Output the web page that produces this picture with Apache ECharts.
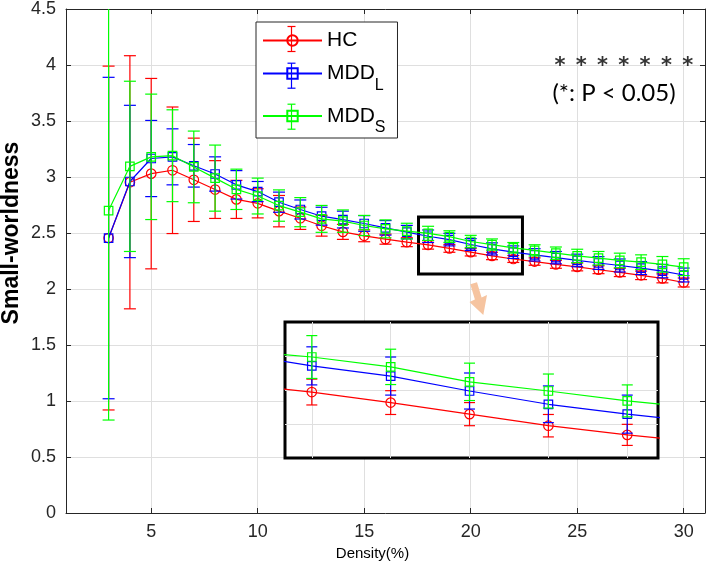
<!DOCTYPE html>
<html><head><meta charset="utf-8">
<script src="https://cdn.jsdelivr.net/npm/echarts@6/dist/echarts.min.js"></script>
<style>html,body{margin:0;padding:0;background:#fff}#c{width:709px;height:575px}</style>
</head><body><div id="c"></div>
<script>
const densities = [3,4,5,6,7,8,9,10,11,12,13,14,15,16,17,18,19,20,21,22,23,24,25,26,27,28,29,30];
const hcMean   = [2.455,2.953,3.03,3.06,2.975,2.888,2.80,2.765,2.695,2.632,2.565,2.51,2.475,2.445,2.418,2.394,2.363,2.329,2.295,2.268,2.245,2.22,2.197,2.172,2.148,2.122,2.095,2.058];
const hcErr    = [1.535,1.13,0.85,0.565,0.372,0.258,0.17,0.13,0.14,0.10,0.093,0.067,0.053,0.045,0.04,0.038,0.035,0.034,0.033,0.031,0.033,0.035,0.035,0.035,0.037,0.038,0.04,0.04];
const mddlMean = [2.455,2.96,3.165,3.18,3.10,3.027,2.93,2.87,2.775,2.71,2.65,2.62,2.585,2.546,2.508,2.471,2.441,2.397,2.358,2.329,2.305,2.28,2.255,2.232,2.21,2.187,2.16,2.125];
const mddlErr  = [1.435,0.68,0.34,0.25,0.19,0.153,0.127,0.09,0.09,0.085,0.08,0.075,0.07,0.065,0.06,0.056,0.056,0.053,0.054,0.056,0.055,0.055,0.056,0.057,0.058,0.058,0.06,0.062];
const mddsMean = [2.70,3.095,3.18,3.19,3.09,2.99,2.89,2.83,2.745,2.686,2.626,2.606,2.567,2.537,2.517,2.497,2.468,2.424,2.397,2.368,2.345,2.32,2.295,2.275,2.255,2.24,2.22,2.195];
const mddsErr  = [1.87,0.76,0.56,0.41,0.32,0.295,0.18,0.16,0.14,0.13,0.12,0.10,0.09,0.08,0.07,0.063,0.052,0.055,0.05,0.047,0.05,0.055,0.06,0.06,0.065,0.065,0.07,0.075];
const sigDensities = [24,25,26,27,28,29,30];
const sigLevel = 4.0;
const seriesNames = ['HC','MDD_L','MDD_S'];
const seriesColors = ['#ff0000','#0000ff','#00ff00'];
const seriesSymbols = ['circle','rect','rect'];
const xRange = [1, 31];
const yRange = [0, 4.5];
const zoomBoxX = [17.55, 22.43];
const zoomBoxY = [2.135, 2.642];
const insetX = [17.66, 22.39];
const insetY = [2.2, 2.6];

const means = [hcMean, mddlMean, mddsMean];
const errs = [hcErr, mddlErr, mddsErr];
const FONT = 'Liberation Sans';

function errRender(color, capHalf) {
  return function (params, api) {
    const x = api.value(0), m = api.value(1), e = api.value(2);
    const top = api.coord([x, m + e]);
    const bot = api.coord([x, m - e]);
    const cs = params.coordSys;
    if (top[0] < cs.x - 0.5 || top[0] > cs.x + cs.width + 0.5) return { type: 'group', children: [] };
    const y0 = Math.max(cs.y, top[1]);
    const y1 = Math.min(cs.y + cs.height, bot[1]);
    const st = { stroke: color, lineWidth: 1.2 };
    const ch = [{ type: 'line', shape: { x1: top[0], y1: y0, x2: top[0], y2: y1 }, style: st }];
    if (top[1] >= cs.y) ch.push({ type: 'line', shape: { x1: top[0] - capHalf, y1: top[1], x2: top[0] + capHalf, y2: top[1] }, style: st });
    if (bot[1] <= cs.y + cs.height) ch.push({ type: 'line', shape: { x1: bot[0] - capHalf, y1: bot[1], x2: bot[0] + capHalf, y2: bot[1] }, style: st });
    return { type: 'group', children: ch };
  };
}

const series = [];
[0, 1].forEach(function (g) {
  const axIdx = g === 0 ? 0 : 2;
  seriesNames.forEach(function (name, k) {
    const c = seriesColors[k];
    series.push({
      type: 'custom', name: name + ' err' + g, xAxisIndex: axIdx, yAxisIndex: axIdx,
      clip: true, silent: true, z: 2 + k,
      renderItem: errRender(c, g === 0 ? 6 : 5.5),
      encode: { x: 0, y: 1 },
      data: densities.map(function (d, i) { return [d, means[k][i], errs[k][i]]; })
    });
    const s = {
      type: 'line', name: name, xAxisIndex: axIdx, yAxisIndex: axIdx,
      symbol: seriesSymbols[k], symbolSize: k === 0 ? 9.5 : 8.5, showAllSymbol: true,
      clip: true, silent: true, z: 2 + k,
      itemStyle: { color: 'transparent', borderColor: c, borderWidth: 1.2 },
      lineStyle: { color: c, width: 1.2 },
      emphasis: { disabled: true },
      data: densities.map(function (d, i) { return [d, means[k][i]]; })
    };
    if (g === 0 && k === 0) {
      s.markArea = {
        silent: true,
        itemStyle: { color: 'transparent', borderColor: '#000', borderWidth: 3 },
        data: [[{ coord: [zoomBoxX[0], zoomBoxY[0]] }, { coord: [zoomBoxX[1], zoomBoxY[1]] }]]
      };
    }
    series.push(s);
  });
});
series.push({
  type: 'scatter', name: 'sig', xAxisIndex: 0, yAxisIndex: 0, symbolSize: 0, silent: true,
  label: { show: true, formatter: '*', position: 'inside', offset: [4, 2], fontFamily: 'DejaVu Sans', fontWeight: 'bold', fontSize: 21, color: '#000' },
  data: sigDensities.map(function (d) { return [d, sigLevel]; })
});

const axisColor = '#262626';
const gridColor = '#dfdfdf';
const option = {
  animation: false,
  backgroundColor: '#fff',
  textStyle: { fontFamily: FONT },
  grid: [
    { left: 66, top: 7, width: 639, height: 506, show: false },
    { left: 285, top: 322, width: 373, height: 136, show: true, z: 1, backgroundColor: '#fff', borderColor: '#000', borderWidth: 3 }
  ],
  xAxis: [
    { type: 'value', gridIndex: 0, position: 'bottom', min: xRange[0], max: xRange[1], minInterval: 5, maxInterval: 5,
      axisLine: { show: true, onZero: false, lineStyle: { color: axisColor, width: 1 } },
      axisTick: { show: true, inside: true, length: 5, lineStyle: { color: axisColor } },
      axisLabel: { fontSize: 18, color: axisColor, margin: 10, showMinLabel: false, showMaxLabel: false, fontFamily: FONT },
      splitLine: { show: true, lineStyle: { color: gridColor, width: 1 } },
      name: 'Density(%)', nameLocation: 'middle', nameGap: 31,
      nameTextStyle: { fontSize: 15, color: '#000', fontFamily: FONT, padding: [0, 26, 0, 0] } },
    { type: 'value', gridIndex: 0, position: 'top', min: xRange[0], max: xRange[1], minInterval: 5, maxInterval: 5,
      axisLine: { show: true, onZero: false, lineStyle: { color: axisColor, width: 1 } },
      axisTick: { show: true, inside: true, length: 5, lineStyle: { color: axisColor } },
      axisLabel: { show: false }, splitLine: { show: false } },
    { type: 'value', gridIndex: 1, min: insetX[0], max: insetX[1], minInterval: 1, maxInterval: 1, z: 1,
      axisLine: { show: false }, axisTick: { show: false }, axisLabel: { show: false },
      splitLine: { show: true, showMinLine: false, showMaxLine: false, lineStyle: { color: gridColor, width: 1 } } }
  ],
  yAxis: [
    { type: 'value', gridIndex: 0, position: 'left', min: yRange[0], max: yRange[1], interval: 0.5,
      axisLine: { show: true, onZero: false, lineStyle: { color: axisColor, width: 1 } },
      axisTick: { show: true, inside: true, length: 5, lineStyle: { color: axisColor } },
      axisLabel: { fontSize: 18, color: axisColor, margin: 10, fontFamily: FONT },
      splitLine: { show: true, lineStyle: { color: gridColor, width: 1 } } },
    { type: 'value', gridIndex: 0, position: 'right', min: yRange[0], max: yRange[1], interval: 0.5,
      axisLine: { show: true, onZero: false, lineStyle: { color: axisColor, width: 1 } },
      axisTick: { show: true, inside: true, length: 5, lineStyle: { color: axisColor } },
      axisLabel: { show: false }, splitLine: { show: false } },
    { type: 'value', gridIndex: 1, min: insetY[0], max: insetY[1], interval: 0.1, z: 1,
      axisLine: { show: false }, axisTick: { show: false }, axisLabel: { show: false },
      splitLine: { show: true, showMinLine: false, showMaxLine: false, lineStyle: { color: gridColor, width: 1 } } }
  ],
  legend: {
    data: seriesNames, orient: 'vertical', left: 256, top: 22,
    padding: [8, 12, 2, 6], itemGap: 12, itemWidth: 59, itemHeight: 13,
    backgroundColor: '#fff', borderColor: axisColor, borderWidth: 1, borderRadius: 0,
    selectedMode: false, z: 6,
    textStyle: { fontFamily: FONT, fontSize: 21, color: '#000',
      rich: {
        h: { fontFamily: FONT, fontSize: 21, lineHeight: 32, color: '#000' },
        m: { fontFamily: FONT, fontSize: 21, lineHeight: 40, color: '#000' },
        s: { fontFamily: FONT, fontSize: 16, lineHeight: 24, verticalAlign: 'bottom', color: '#000' }
      } },
    formatter: function (n) {
      if (n === 'HC') return '{h|HC}';
      const p = n.split('_');
      return '{m|' + p[0] + '}{s|' + p[1] + '}';
    }
  },
  graphic: [
    { type: 'text', x: 12, y: 233, rotation: Math.PI / 2, z: 10, silent: true,
      style: { text: 'Small-worldness', fill: '#000', font: 'bold 23px "Liberation Sans"', align: 'center', verticalAlign: 'middle' } },
    { type: 'text', x: 614, y: 93, z: 10, silent: true,
      style: { text: '(*: P < 0.05)', fill: '#000', font: '24px Lato', align: 'center', verticalAlign: 'middle' } },
    { type: 'polygon', z: 10, silent: true,
      shape: { points: [[477.0, 282.2], [481.6, 297.5], [487, 295], [483.3, 315], [469.5, 302], [474.9, 299.5], [470.3, 284.2]] },
      style: { fill: '#f6c4a0' } }
  ].concat([39, 75.7, 116.7].map(function (cy, k) {
    const cx = 291.5, st = { stroke: seriesColors[k], lineWidth: 1.2 };
    return { type: 'group', z: 10, silent: true, children: [
      { type: 'line', z: 10, shape: { x1: cx, y1: cy - 12.5, x2: cx, y2: cy + 12.5 }, style: st },
      { type: 'line', z: 10, shape: { x1: cx - 4, y1: cy - 12.5, x2: cx + 4, y2: cy - 12.5 }, style: st },
      { type: 'line', z: 10, shape: { x1: cx - 4, y1: cy + 12.5, x2: cx + 4, y2: cy + 12.5 }, style: st }
    ] };
  })),
  series: series
};
const chart = echarts.init(document.getElementById('c'), null, { renderer: 'canvas' });
chart.setOption(option);
</script></body></html>
